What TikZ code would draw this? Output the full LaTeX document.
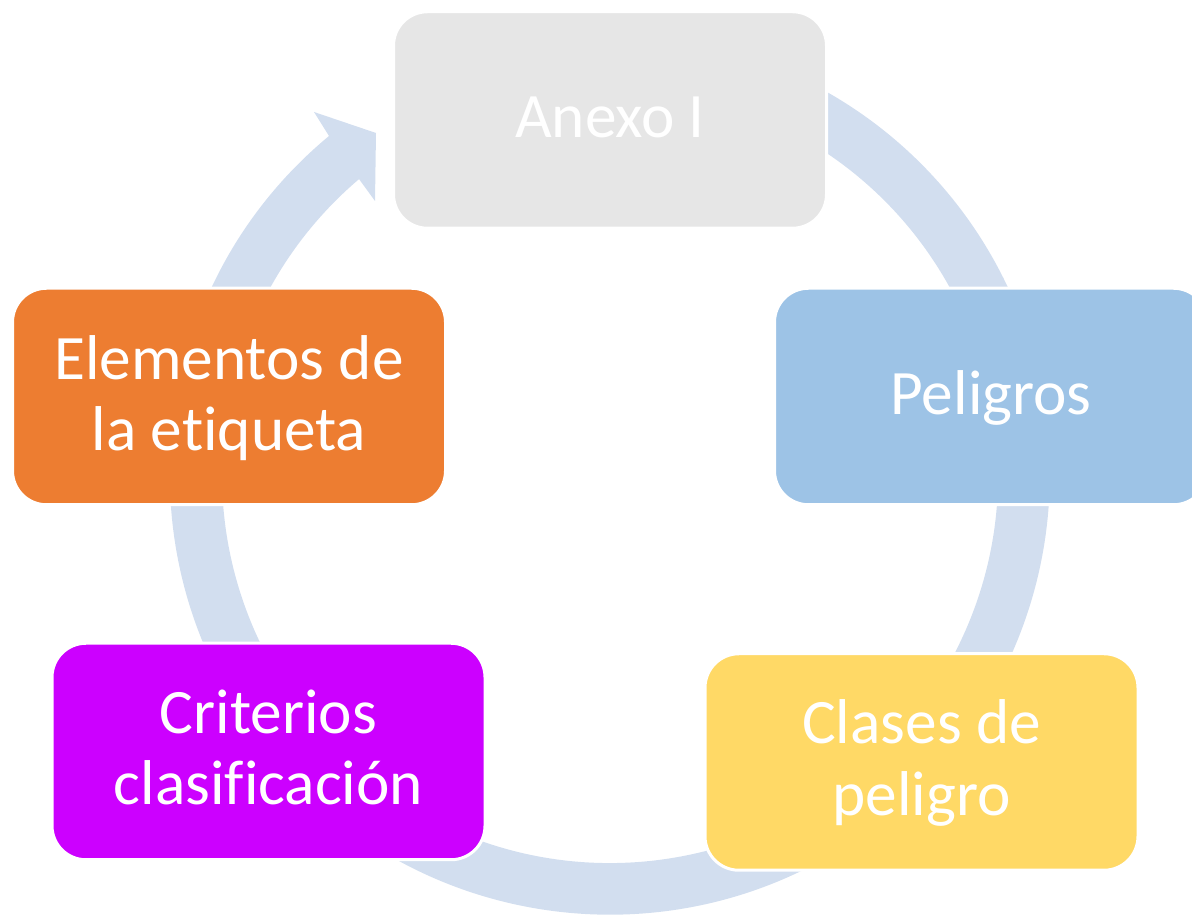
\documentclass[tikz,border=0pt]{standalone}
\usepackage{fontspec}
\setmainfont{Carlito}[Ligatures=NoCommon]
\usetikzlibrary{calc}
\definecolor{ringc}{HTML}{D2DEEF}
\definecolor{anexoc}{HTML}{E6E6E6}
\definecolor{peligc}{HTML}{9DC3E6}
\definecolor{clasec}{HTML}{FFD966}
\definecolor{critc}{HTML}{CC00FF}
\definecolor{elemc}{HTML}{ED7D31}
\begin{document}
\begin{tikzpicture}[x=1pt,y=1pt,
  box/.style={rectangle, rounded corners=34pt, minimum width=433pt, minimum height=216.5pt, draw=white, line width=3pt, inner sep=0pt},
  lbl/.style={text=white, font=\fontsize{63.3}{71.4}\selectfont, align=center, inner sep=0pt}]
\clip (0,0) rectangle (1192,915);
% circular arrow
\fill[ringc] (329,779) arc[start angle=129.66, end angle=422, radius=440]
  -- (792.15,782.58) arc[start angle=422, end angle=130.3, radius=388]
  -- (375,714) -- (376,782) -- (314,803) -- cycle;
% boxes
\node[box, fill=anexoc] (anexo) at (610,795) {};
\node[box, fill=peligc] (pelig) at (991,518.5) {};
\node[box, fill=clasec] (clase) at (921.5,153) {};
\node[box, fill=critc] (crit) at (268.5,163.5) {};
\node[box, fill=elemc] (elem) at (229,518.5) {};
% labels (base anchor = baseline of last line)
\node[lbl, anchor=base] (tanexo) at ([yshift=-17.7pt]anexo.center) {Anexo I};
\node[lbl, anchor=base] (tpelig) at ([yshift=-18.5pt]pelig.center) {Peligros};
\node[lbl, anchor=base] (tclase) at ([yshift=-53.3pt]clase.center) {Clases de\\peligro};
\node[lbl, anchor=base] (tcrit) at ([yshift=-53.3pt]crit.center) {Criterios\\clasificación};
\node[lbl, anchor=base] (telem) at ([yshift=-54pt]elem.center) {Elementos de\\la etiqueta};
\end{tikzpicture}
\end{document}
